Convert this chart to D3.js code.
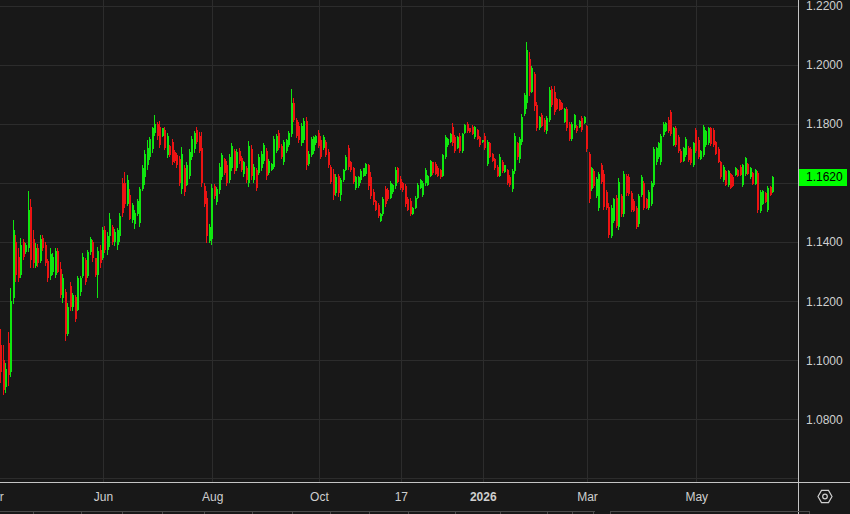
<!DOCTYPE html>
<html><head><meta charset="utf-8">
<script src="https://cdn.jsdelivr.net/npm/d3@7"></script>
<style>
html,body{margin:0;padding:0;background:#181818;overflow:hidden}
svg{display:block}
text{font-family:"Liberation Sans",Arial,sans-serif}
</style></head><body>
<svg id="chart" width="850" height="514"></svg>
<script>
// ---------- data ----------
const startDate = "2025-04-04"; // first trading day shown; one bar per weekday
const highs = [
1.1106,1.1052,1.0990,1.1096,1.1245,1.1475,1.1425,1.1380,1.1414,1.1411,
1.1397,1.1574,1.1547,1.1441,1.1397,1.1394,1.1425,1.1425,1.1401,1.1343,
1.1380,1.1363,1.1380,1.1380,1.1333,1.1293,1.1241,1.1194,1.1265,1.1228,
1.1221,1.1286,1.1286,1.1363,1.1347,1.1374,1.1418,1.1408,1.1347,1.1384,
1.1391,1.1452,1.1455,1.1435,1.1499,1.1458,1.1445,1.1448,1.1499,1.1618,
1.1638,1.1628,1.1581,1.1533,1.1509,1.1547,1.1587,1.1662,1.1713,1.1747,
1.1757,1.1791,1.1831,1.1808,1.1811,1.1787,1.1791,1.1771,1.1730,1.1750,
1.1713,1.1703,1.1693,1.1723,1.1662,1.1672,1.1716,1.1760,1.1777,1.1791,
1.1774,1.1774,1.1601,1.1574,1.1462,1.1598,1.1598,1.1587,1.1669,1.1703,
1.1686,1.1676,1.1699,1.1737,1.1716,1.1716,1.1720,1.1693,1.1676,1.1659,
1.1743,1.1730,1.1665,1.1652,1.1699,1.1709,1.1737,1.1720,1.1682,1.1669,
1.1760,1.1767,1.1781,1.1733,1.1747,1.1750,1.1777,1.1920,1.1889,1.1821,
1.1808,1.1804,1.1821,1.1825,1.1709,1.1757,1.1760,1.1764,1.1781,1.1760,
1.1764,1.1747,1.1716,1.1662,1.1648,1.1632,1.1632,1.1618,1.1648,1.1696,
1.1730,1.1676,1.1655,1.1625,1.1625,1.1648,1.1652,1.1669,1.1665,1.1638,
1.1581,1.1543,1.1533,1.1499,1.1554,1.1591,1.1584,1.1608,1.1598,1.1655,
1.1655,1.1625,1.1604,1.1598,1.1554,1.1550,1.1519,1.1557,1.1601,1.1615,
1.1608,1.1652,1.1628,1.1679,1.1672,1.1672,1.1659,1.1648,1.1699,1.1764,
1.1754,1.1771,1.1804,1.1764,1.1760,1.1771,1.1771,1.1801,1.1808,1.1787,
1.1798,1.1794,1.1784,1.1760,1.1747,1.1771,1.1747,1.1740,1.1703,1.1686,
1.1662,1.1699,1.1679,1.1662,1.1648,1.1628,1.1648,1.1771,1.1740,1.1757,
1.1835,1.1906,1.2079,1.2045,1.1998,1.1977,1.1876,1.1828,1.1838,1.1821,
1.1828,1.1926,1.1930,1.1930,1.1889,1.1886,1.1876,1.1855,1.1859,1.1808,
1.1808,1.1835,1.1798,1.1815,1.1828,1.1828,1.1798,1.1706,1.1655,1.1648,
1.1621,1.1638,1.1669,1.1645,1.1577,1.1533,1.1526,1.1550,1.1560,1.1618,
1.1564,1.1642,1.1632,1.1632,1.1574,1.1547,1.1523,1.1564,1.1628,1.1608,
1.1550,1.1577,1.1608,1.1723,1.1723,1.1740,1.1767,1.1808,1.1808,1.1825,
1.1848,1.1791,1.1794,1.1764,1.1716,1.1723,1.1757,1.1726,1.1723,1.1740,
1.1787,1.1757,1.1713,1.1798,1.1781,1.1791,1.1791,1.1787,1.1743,1.1723,
1.1676,1.1662,1.1645,1.1645,1.1635,1.1628,1.1655,1.1648,1.1662,1.1665,
1.1689,1.1669,1.1655,1.1638,1.1648,1.1642,1.1577,1.1577,1.1570,1.1591,
1.1591,1.1625];
const lows = [
1.0923,1.0882,1.0889,1.0913,1.0943,1.1191,1.1265,1.1265,1.1279,1.1340,
1.1360,1.1367,1.1313,1.1313,1.1313,1.1316,1.1330,1.1370,1.1320,1.1265,
1.1272,1.1289,1.1279,1.1296,1.1211,1.1194,1.1065,1.1082,1.1167,1.1167,
1.1130,1.1167,1.1218,1.1279,1.1255,1.1279,1.1357,1.1333,1.1282,1.1211,
1.1313,1.1340,1.1363,1.1357,1.1384,1.1391,1.1387,1.1374,1.1401,1.1486,
1.1516,1.1523,1.1475,1.1465,1.1445,1.1489,1.1452,1.1574,1.1594,1.1645,
1.1679,1.1703,1.1760,1.1747,1.1720,1.1757,1.1713,1.1686,1.1689,1.1662,
1.1669,1.1652,1.1591,1.1564,1.1557,1.1591,1.1615,1.1679,1.1703,1.1733,
1.1703,1.1587,1.1519,1.1397,1.1397,1.1391,1.1547,1.1526,1.1564,1.1611,
1.1628,1.1591,1.1601,1.1642,1.1632,1.1642,1.1665,1.1638,1.1621,1.1601,
1.1587,1.1611,1.1601,1.1574,1.1628,1.1642,1.1665,1.1611,1.1628,1.1642,
1.1648,1.1703,1.1713,1.1682,1.1662,1.1703,1.1723,1.1757,1.1808,1.1754,
1.1737,1.1726,1.1737,1.1645,1.1659,1.1689,1.1699,1.1730,1.1720,1.1682,
1.1713,1.1689,1.1652,1.1598,1.1543,1.1557,1.1554,1.1540,1.1604,1.1642,
1.1645,1.1638,1.1598,1.1577,1.1584,1.1601,1.1621,1.1625,1.1577,1.1547,
1.1526,1.1506,1.1482,1.1469,1.1489,1.1519,1.1540,1.1547,1.1564,1.1581,
1.1601,1.1577,1.1570,1.1519,1.1506,1.1489,1.1492,1.1513,1.1547,1.1581,
1.1554,1.1591,1.1591,1.1621,1.1628,1.1628,1.1621,1.1615,1.1621,1.1682,
1.1723,1.1737,1.1726,1.1703,1.1716,1.1703,1.1703,1.1767,1.1771,1.1771,
1.1764,1.1750,1.1747,1.1723,1.1737,1.1713,1.1659,1.1686,1.1672,1.1645,
1.1621,1.1621,1.1635,1.1635,1.1594,1.1587,1.1570,1.1632,1.1679,1.1669,
1.1730,1.1828,1.1852,1.1896,1.1906,1.1845,1.1777,1.1781,1.1791,1.1774,
1.1767,1.1808,1.1859,1.1831,1.1848,1.1845,1.1848,1.1804,1.1777,1.1743,
1.1743,1.1781,1.1771,1.1787,1.1774,1.1801,1.1706,1.1533,1.1574,1.1584,
1.1550,1.1506,1.1598,1.1509,1.1509,1.1414,1.1414,1.1465,1.1448,1.1441,
1.1486,1.1486,1.1557,1.1557,1.1502,1.1502,1.1445,1.1452,1.1554,1.1509,
1.1513,1.1509,1.1523,1.1587,1.1662,1.1682,1.1662,1.1757,1.1774,1.1771,
1.1760,1.1726,1.1723,1.1703,1.1669,1.1672,1.1689,1.1672,1.1662,1.1655,
1.1703,1.1682,1.1679,1.1689,1.1723,1.1730,1.1726,1.1723,1.1696,1.1669,
1.1615,1.1604,1.1591,1.1587,1.1581,1.1587,1.1625,1.1621,1.1625,1.1587,
1.1625,1.1628,1.1615,1.1594,1.1594,1.1499,1.1499,1.1526,1.1533,1.1502,
1.1557,1.1567];
const opens = [
1.1050,1.1000,1.0910,1.1060,1.0960,1.1210,1.1400,1.1350,1.1290,1.1400,
1.1365,1.1380,1.1520,1.1410,1.1320,1.1380,1.1335,1.1415,1.1390,1.1335,
1.1285,1.1300,1.1290,1.1370,1.1310,1.1210,1.1230,1.1090,1.1250,1.1180,
1.1215,1.1170,1.1230,1.1285,1.1340,1.1285,1.1365,1.1400,1.1345,1.1290,
1.1375,1.1345,1.1440,1.1375,1.1420,1.1450,1.1400,1.1390,1.1420,1.1600,
1.1600,1.1530,1.1560,1.1475,1.1460,1.1495,1.1465,1.1580,1.1620,1.1660,
1.1690,1.1715,1.1770,1.1800,1.1790,1.1760,1.1780,1.1695,1.1725,1.1740,
1.1705,1.1695,1.1680,1.1580,1.1650,1.1595,1.1625,1.1690,1.1715,1.1780,
1.1760,1.1720,1.1590,1.1550,1.1405,1.1410,1.1590,1.1535,1.1575,1.1620,
1.1680,1.1660,1.1610,1.1650,1.1710,1.1650,1.1710,1.1685,1.1630,1.1650,
1.1600,1.1715,1.1610,1.1645,1.1635,1.1650,1.1675,1.1710,1.1635,1.1645,
1.1655,1.1710,1.1770,1.1725,1.1670,1.1710,1.1730,1.1765,1.1870,1.1815,
1.1795,1.1735,1.1745,1.1810,1.1665,1.1695,1.1710,1.1735,1.1770,1.1745,
1.1720,1.1740,1.1705,1.1655,1.1630,1.1565,1.1625,1.1560,1.1610,1.1645,
1.1720,1.1670,1.1650,1.1585,1.1590,1.1610,1.1625,1.1630,1.1660,1.1620,
1.1570,1.1540,1.1525,1.1472,1.1495,1.1580,1.1575,1.1550,1.1570,1.1590,
1.1650,1.1615,1.1600,1.1590,1.1545,1.1540,1.1495,1.1515,1.1550,1.1585,
1.1560,1.1600,1.1595,1.1625,1.1670,1.1665,1.1650,1.1645,1.1625,1.1690,
1.1728,1.1740,1.1790,1.1755,1.1720,1.1760,1.1710,1.1770,1.1800,1.1785,
1.1790,1.1755,1.1780,1.1755,1.1738,1.1760,1.1665,1.1735,1.1700,1.1680,
1.1655,1.1625,1.1670,1.1638,1.1645,1.1620,1.1580,1.1640,1.1735,1.1680,
1.1740,1.1835,1.1870,1.2020,1.1910,1.1970,1.1865,1.1785,1.1830,1.1815,
1.1775,1.1815,1.1920,1.1910,1.1885,1.1880,1.1872,1.1808,1.1850,1.1800,
1.1750,1.1785,1.1795,1.1790,1.1820,1.1803,1.1795,1.1700,1.1580,1.1640,
1.1555,1.1515,1.1660,1.1630,1.1570,1.1520,1.1420,1.1470,1.1550,1.1450,
1.1555,1.1495,1.1625,1.1620,1.1565,1.1540,1.1515,1.1460,1.1560,1.1600,
1.1545,1.1515,1.1530,1.1595,1.1670,1.1690,1.1670,1.1762,1.1778,1.1815,
1.1840,1.1730,1.1785,1.1755,1.1710,1.1675,1.1695,1.1720,1.1715,1.1660,
1.1780,1.1745,1.1682,1.1695,1.1730,1.1735,1.1785,1.1780,1.1738,1.1715,
1.1670,1.1610,1.1640,1.1592,1.1630,1.1620,1.1628,1.1645,1.1655,1.1592,
1.1630,1.1665,1.1620,1.1635,1.1598,1.1635,1.1505,1.1530,1.1565,1.1510,
1.1588,1.1570];
const closes = [
1.0960,1.0900,1.0970,1.0950,1.1200,1.1440,1.1290,1.1280,1.1390,1.1350,
1.1390,1.1510,1.1340,1.1330,1.1380,1.1330,1.1410,1.1380,1.1330,1.1280,
1.1360,1.1350,1.1370,1.1300,1.1220,1.1280,1.1090,1.1180,1.1180,1.1220,
1.1140,1.1280,1.1280,1.1350,1.1265,1.1365,1.1410,1.1345,1.1290,1.1370,
1.1330,1.1440,1.1375,1.1420,1.1480,1.1400,1.1435,1.1440,1.1490,1.1500,
1.1530,1.1610,1.1480,1.1525,1.1500,1.1540,1.1580,1.1650,1.1700,1.1720,
1.1750,1.1785,1.1800,1.1760,1.1730,1.1785,1.1720,1.1760,1.1695,1.1670,
1.1675,1.1660,1.1600,1.1700,1.1570,1.1660,1.1705,1.1750,1.1770,1.1740,
1.1710,1.1600,1.1530,1.1420,1.1450,1.1585,1.1555,1.1580,1.1655,1.1695,
1.1635,1.1600,1.1690,1.1725,1.1640,1.1705,1.1675,1.1645,1.1670,1.1610,
1.1725,1.1625,1.1655,1.1585,1.1690,1.1700,1.1730,1.1625,1.1675,1.1665,
1.1750,1.1760,1.1720,1.1690,1.1740,1.1745,1.1770,1.1870,1.1815,1.1760,
1.1745,1.1795,1.1810,1.1660,1.1700,1.1750,1.1755,1.1760,1.1725,1.1690,
1.1755,1.1695,1.1660,1.1605,1.1560,1.1620,1.1565,1.1610,1.1645,1.1690,
1.1655,1.1645,1.1605,1.1620,1.1620,1.1640,1.1650,1.1665,1.1590,1.1555,
1.1535,1.1510,1.1490,1.1495,1.1545,1.1530,1.1545,1.1600,1.1595,1.1645,
1.1605,1.1585,1.1575,1.1530,1.1510,1.1495,1.1515,1.1550,1.1595,1.1610,
1.1600,1.1645,1.1625,1.1675,1.1635,1.1632,1.1625,1.1620,1.1695,1.1755,
1.1750,1.1768,1.1735,1.1710,1.1755,1.1710,1.1765,1.1798,1.1775,1.1774,
1.1768,1.1790,1.1750,1.1728,1.1746,1.1720,1.1740,1.1690,1.1676,1.1650,
1.1625,1.1690,1.1640,1.1660,1.1600,1.1592,1.1640,1.1760,1.1690,1.1750,
1.1825,1.1900,1.2050,1.1910,1.1990,1.1860,1.1785,1.1825,1.1795,1.1780,
1.1820,1.1915,1.1865,1.1840,1.1852,1.1848,1.1850,1.1850,1.1785,1.1750,
1.1800,1.1830,1.1775,1.1812,1.1780,1.1825,1.1715,1.1545,1.1650,1.1590,
1.1615,1.1630,1.1605,1.1520,1.1515,1.1425,1.1515,1.1545,1.1455,1.1605,
1.1495,1.1630,1.1565,1.1562,1.1510,1.1505,1.1450,1.1555,1.1620,1.1515,
1.1516,1.1570,1.1600,1.1715,1.1718,1.1735,1.1760,1.1800,1.1805,1.1775,
1.1765,1.1785,1.1730,1.1710,1.1672,1.1718,1.1750,1.1678,1.1668,1.1735,
1.1710,1.1688,1.1710,1.1790,1.1775,1.1785,1.1732,1.1728,1.1700,1.1672,
1.1620,1.1655,1.1595,1.1640,1.1585,1.1590,1.1652,1.1624,1.1628,1.1660,
1.1685,1.1632,1.1650,1.1598,1.1645,1.1510,1.1570,1.1572,1.1537,1.1585,
1.1560,1.1620];
const lastPrice = 1.1620;
// 1.1600 sits under the last-price tag in the reference, so it is not labelled
const yTickValues = [1.08, 1.10, 1.12, 1.14, 1.18, 1.20, 1.22];
const yGridValues = [1.06, 1.08, 1.10, 1.12, 1.14, 1.16, 1.18, 1.20, 1.22];
const xTickDates = ["2025-04-01","2025-06-02","2025-08-01","2025-10-01","2025-11-17","2026-01-01","2026-03-02","2026-05-01"];
const xTickLabels = ["Apr","Jun","Aug","Oct","17","2026","Mar","May"];
const xTickBold = ["2026"];

// ---------- layout ----------
const W = 850, H = 514, plotR = 798, plotB = 482;
const BG = "#181818", GRID = "#2c2c2c", AXIS = "#c4c4c4", TXT = "#cfcfcf";
const UP = "#10e610", DOWN = "#ec1313";

const N = highs.length;
const isWeekday = d => d.getUTCDay() % 6 !== 0;
const start = new Date(startDate + "T00:00:00Z");
const dates = [];
for (let d = start; dates.length < N; d = d3.utcDay.offset(d, 1)) if (isWeekday(d)) dates.push(d);
function dateIndex(s) {
  const t = new Date(s + "T00:00:00Z");
  if (t >= start) return d3.bisectLeft(dates, t);
  return -d3.utcDays(t, start).filter(isWeekday).length;
}

const svg = d3.select("#chart");
svg.append("rect").attr("width", W).attr("height", H).attr("fill", BG);

// right padding of ~9.5 empty bar slots before the price axis
const x = d3.scaleLinear().domain([-0.5, N - 0.5 + 9.5]).range([0, plotR]);
const y = d3.scaleLinear().domain([1.05875, 1.22203]).range([plotB, 0]);

const plot = svg.append("g");
// horizontal grid
plot.append("g").selectAll("line").data(yGridValues).join("line")
  .attr("x1", 0).attr("x2", plotR)
  .attr("y1", d => Math.round(y(d)) + 0.5).attr("y2", d => Math.round(y(d)) + 0.5)
  .attr("stroke", GRID).attr("stroke-width", 1);
// vertical grid
const tickIdx = xTickDates.map(dateIndex);
plot.append("g").selectAll("line").data(tickIdx).join("line")
  .attr("x1", d => Math.round(x(d)) + 0.5).attr("x2", d => Math.round(x(d)) + 0.5)
  .attr("y1", 0).attr("y2", plotB)
  .attr("stroke", GRID).attr("stroke-width", 1);

// candles
const idx = d3.range(N);
const cg = plot.append("g").attr("shape-rendering", "crispEdges");
cg.selectAll("rect.wick").data(idx).join("rect").attr("class", "wick")
  .attr("x", i => Math.round(x(i)) - 1)
  .attr("width", 1.4)
  .attr("y", i => y(highs[i]))
  .attr("height", i => Math.max(1, y(lows[i]) - y(highs[i])))
  .attr("fill", i => closes[i] >= opens[i] ? UP : DOWN);
cg.selectAll("rect.body").data(idx).join("rect").attr("class", "body")
  .attr("x", i => Math.round(x(i)) - 1)
  .attr("width", 2)
  .attr("y", i => y(Math.max(opens[i], closes[i])))
  .attr("height", i => Math.max(1, Math.abs(y(opens[i]) - y(closes[i]))))
  .attr("fill", i => closes[i] >= opens[i] ? UP : DOWN);

// axes frame
svg.append("line").attr("x1", plotR + 0.5).attr("x2", plotR + 0.5).attr("y1", 0).attr("y2", H)
  .attr("stroke", AXIS).attr("stroke-width", 1);
svg.append("line").attr("x1", 0).attr("x2", W).attr("y1", plotB + 0.5).attr("y2", plotB + 0.5)
  .attr("stroke", AXIS).attr("stroke-width", 1);

// y axis labels
const yAxis = svg.append("g").attr("transform", `translate(${plotR},0)`)
  .call(d3.axisRight(y).tickValues(yTickValues).tickFormat(d3.format(".4f")).tickSize(0).tickPadding(8));
yAxis.select(".domain").remove();
yAxis.selectAll("text").attr("fill", TXT).style("font-size", "12px");

// x axis labels
const xAxis = svg.append("g").attr("transform", `translate(0,${plotB})`)
  .call(d3.axisBottom(x).tickValues(tickIdx).tickFormat((d, i) => xTickLabels[i]).tickSize(0).tickPadding(10));
xAxis.select(".domain").remove();
xAxis.selectAll("text").attr("fill", TXT).style("font-size", "12px")
  .style("font-weight", (d, i) => xTickBold.includes(xTickLabels[i]) ? "bold" : "normal");

// last price tag
const py = y(lastPrice);
svg.append("rect").attr("x", plotR + 1).attr("y", Math.round(py) - 8).attr("width", 48).attr("height", 17)
  .attr("fill", "#00ff00");
svg.append("text").attr("x", plotR + 8).attr("y", py).attr("dy", "0.35em")
  .attr("fill", "#000").style("font-size", "12px").text(d3.format(".4f")(lastPrice));

// settings icon (hexagon with circle)
const cx = 825, cy = 496.5, r = 7;
const hex = d3.range(6).map(k => [cx + r * Math.cos(k * Math.PI / 3), cy + r * Math.sin(k * Math.PI / 3)]);
svg.append("path").attr("d", d3.line()(hex) + "Z").attr("fill", "none").attr("stroke", TXT).attr("stroke-width", 1.2);
svg.append("circle").attr("cx", cx).attr("cy", cy).attr("r", 2.3).attr("fill", "none").attr("stroke", TXT).attr("stroke-width", 1.2);

// bottom toolbar edge (partially visible)
const tb = svg.append("g").attr("stroke", "#4a4a4a").attr("shape-rendering", "crispEdges");
tb.append("line").attr("x1", 0).attr("x2", 595).attr("y1", 511.5).attr("y2", 511.5);
[33, 81, 122, 162, 204, 252, 292, 330, 369, 408, 455, 500, 547, 572, 593].forEach(sx =>
  tb.append("line").attr("x1", sx + 0.5).attr("x2", sx + 0.5).attr("y1", 511).attr("y2", 514));
tb.append("rect").attr("x", 610.5).attr("y", 511.5).attr("width", 199).attr("height", 5).attr("fill", "none");
</script>
</body></html>
